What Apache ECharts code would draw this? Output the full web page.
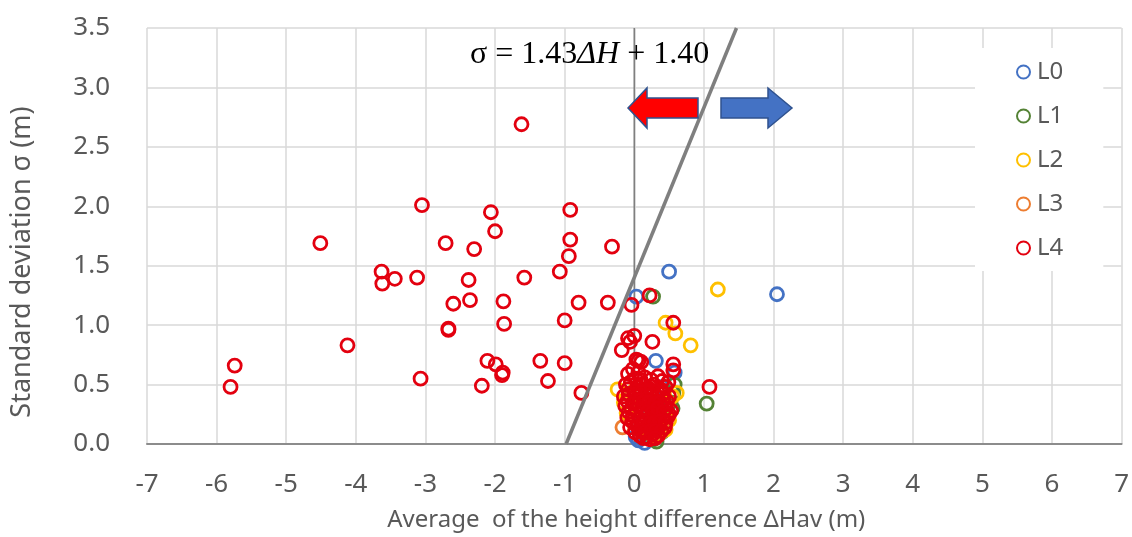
<!DOCTYPE html>
<html><head><meta charset="utf-8">
<script src="https://cdn.jsdelivr.net/npm/echarts@6/dist/echarts.min.js"></script>
<style>html,body{margin:0;padding:0;background:#fff}#c{width:1132px;height:537px}</style>
</head><body><div id="c"></div>
<script>
// ---- data ----
const seriesNames = ['L0','L1','L2','L3','L4'];
const L0 = [[0.50,1.45],[2.05,1.26],[0.03,1.24],[0.31,0.70],[0.58,0.60],[0.06,0.03],[0.15,0.01],[0.02,0.06],[0.22,0.30],[0.40,0.48],[0.10,0.20]];
const L1 = [[0.27,1.24],[1.04,0.34],[0.56,0.43],[0.32,0.02],[0.58,0.50],[0.45,0.25],[0.52,0.35],[0.28,0.04],[0.40,0.10],[0.55,0.30]];
const L2 = [[1.20,1.30],[0.45,1.02],[0.59,0.93],[0.81,0.83],[-0.24,0.46],[0.61,0.43],[0.55,0.40],[0.20,0.05],[-0.11,0.26],[0.50,0.20],[0.45,0.12],[0.35,0.08],[0.00,0.45],[-0.15,0.35]];
const L3 = [[-0.17,0.14],[0.38,0.10],[0.10,0.30],[0.45,0.20],[0.25,0.08],[-0.05,0.40]];
const L4 = [
  [-5.80,0.48],[-5.74,0.66],[-4.51,1.69],[-4.12,0.83],[-3.63,1.45],[-3.62,1.35],[-3.44,1.39],[-3.12,1.40],[-3.05,2.01],[-3.07,0.55],
  [-2.71,1.69],[-2.67,0.97],[-2.67,0.96],[-2.60,1.18],[-2.38,1.38],[-2.36,1.21],[-2.30,1.64],[-2.19,0.49],[-2.11,0.70],[-2.06,1.95],
  [-2.00,1.79],[-1.99,0.67],[-1.89,0.60],[-1.90,0.58],[-1.88,1.20],[-1.87,1.01],[-1.62,2.69],[-1.58,1.40],[-1.35,0.70],[-1.24,0.53],
  [-1.07,1.45],[-1.00,1.04],[-1.00,0.68],[-0.94,1.58],[-0.92,1.72],[-0.92,1.97],[-0.80,1.19],[-0.76,0.43],[-0.38,1.19],[-0.32,1.66],
  [-0.18,0.79],
  [-0.04,1.17],[0.22,1.25],[0.56,1.02],[0.26,0.86],[0.00,0.91],[-0.09,0.89],[-0.06,0.86],[0.03,0.71],[0.06,0.70],[0.10,0.69],
  [0.56,0.67],[1.08,0.48],[0.56,0.62],[0.34,0.57],[0.15,0.56],[-0.09,0.59],[0.49,0.52],
  [-0.12,0.50],[-0.05,0.52],[0.05,0.48],[0.12,0.50],[0.20,0.47],[0.28,0.50],[0.38,0.46],[0.45,0.48],
  [-0.15,0.40],[-0.08,0.42],[0.02,0.40],[0.10,0.43],[0.18,0.38],[0.25,0.41],[0.33,0.39],[0.42,0.37],[0.50,0.40],
  [-0.13,0.32],[-0.04,0.30],[0.06,0.33],[0.14,0.30],[0.22,0.32],[0.30,0.29],[0.38,0.31],[0.46,0.30],[0.53,0.28],
  [-0.10,0.22],[-0.02,0.24],[0.08,0.21],[0.16,0.23],[0.24,0.20],[0.32,0.22],[0.40,0.21],[0.48,0.23],
  [-0.06,0.14],[0.04,0.15],[0.12,0.12],[0.20,0.14],[0.28,0.13],[0.36,0.15],[0.44,0.14],
  [0.08,0.07],[0.18,0.06],[0.26,0.08],[0.34,0.07],
  [0.00,0.36],[0.27,0.36],[0.15,0.18],[0.35,0.26],[0.10,0.27],
  [-0.09,0.46],[0.00,0.44],[0.08,0.45],[0.16,0.44],[0.24,0.45],[0.33,0.44],[0.41,0.42],[0.47,0.36],
  [-0.10,0.36],[-0.01,0.34],[0.08,0.37],[0.13,0.35],[0.21,0.35],[0.30,0.34],[0.37,0.35],[0.44,0.33],
  [-0.08,0.27],[0.02,0.28],[0.11,0.25],[0.19,0.27],[0.26,0.26],[0.34,0.30],[0.42,0.27],[0.50,0.25],
  [-0.03,0.19],[0.06,0.18],[0.13,0.19],[0.22,0.17],[0.30,0.18],[0.37,0.19],[0.45,0.18],
  [0.01,0.10],[0.09,0.11],[0.16,0.10],[0.24,0.11],[0.31,0.11],[0.39,0.11],
  [0.13,0.05],[0.22,0.04],[0.30,0.05],
  [0.02,0.55],[0.09,0.54],[0.24,0.54],[0.40,0.53],[-0.02,0.63],[0.06,0.60]
];
const xTicks = [-7,-6,-5,-4,-3,-2,-1,0,1,2,3,4,5,6,7];
const yTicks = ['0.0','0.5','1.0','1.5','2.0','2.5','3.0','3.5'];
const fitSlope = 1.43, fitIntercept = 1.40;
const yMax = 3.5;

// ---- chart ----
const colors = ['#4472C4','#548235','#FFC000','#ED7D31','#E3000F'];
const fontTick = 'Noto Sans';
const grey = '#595959';
const chart = echarts.init(document.getElementById('c'));
const dataSets = [L0,L1,L2,L3,L4];
const scatter = dataSets.map((d,i)=>({
  name: seriesNames[i], type:'scatter', data:d, symbol:'circle', symbolSize:13,
  itemStyle:{color:'rgba(255,255,255,0)', borderColor:colors[i], borderWidth:2.8, opacity:1},
  z:3
}));
const fitLine = [[(0-fitIntercept)/fitSlope,0],[(yMax-fitIntercept)/fitSlope,yMax]];
chart.setOption({
  animation:false,
  grid:{left:147,right:7,top:28,bottom:87,containLabel:false},
  xAxis:{type:'value',min:-7,max:7,interval:1,
    axisLine:{show:true,lineStyle:{color:'#8C8C8C',width:2}},
    axisTick:{show:false},
    splitLine:{show:true,lineStyle:{color:'#D9D9D9',width:1.5}},
    axisLabel:{margin:28,fontSize:26,color:grey,fontFamily:fontTick,
      formatter:v=>{const k=xTicks.indexOf(Math.round(v));return k>=0?String(xTicks[k]):'';}},
    name:'Average  of the height difference \u0394Hav (m)',nameLocation:'middle',nameGap:64,
    nameTextStyle:{fontSize:24,color:grey,fontFamily:fontTick,padding:[0,16,0,0]}
  },
  yAxis:{type:'value',min:0,max:3.5,interval:0.5,
    axisLine:{show:false},axisTick:{show:false},
    splitLine:{show:true,lineStyle:{color:'#D9D9D9',width:1.5}},
    axisLabel:{margin:37,fontSize:26,color:grey,fontFamily:fontTick,
      formatter:v=>yTicks[Math.round(v*2)]},
    name:'Standard deviation \u03c3 (m)',nameLocation:'middle',nameGap:111,
    nameTextStyle:{fontSize:27,color:grey,fontFamily:fontTick,padding:[0,52,0,0]}
  },
  legend:{orient:'vertical',left:975,top:48,width:127,
    data:seriesNames,backgroundColor:'#fff',padding:[12,40,11,41],
    itemWidth:13,itemHeight:13,itemGap:20,
    textStyle:{fontSize:24,color:grey,fontFamily:fontTick,lineHeight:24,padding:[0,0,0,2]},
    z:10
  },
  series:[
    {type:'line',data:[[0,0],[0,yMax]],symbol:'none',lineStyle:{color:'#7F7F7F',width:1.6},silent:true,z:2,legendHoverLink:false},
    {type:'line',data:fitLine,symbol:'none',lineStyle:{color:'#7F7F7F',width:3.5},silent:true,z:4},
    ...scatter
  ]
});

// ---- annotations ----
function arrowLeft(tipX, y, headBack, bodyEnd, hh, bh){
  return [[tipX,y],[headBack,y-hh],[headBack,y-bh],[bodyEnd,y-bh],[bodyEnd,y+bh],[headBack,y+bh],[headBack,y+hh]];
}
function arrowRight(bodyStart, y, headBack, tipX, hh, bh){
  return [[bodyStart,y-bh],[headBack,y-bh],[headBack,y-hh],[tipX,y],[headBack,y+hh],[headBack,y+bh],[bodyStart,y+bh]];
}
chart.setOption({
  graphic:[
    {type:'polygon',shape:{points:arrowLeft(628,108,647,698,20,10)},style:{fill:'#FF0000',stroke:'#2F528F',lineWidth:1.5},z:20},
    {type:'polygon',shape:{points:arrowRight(721,108,768,792,20,10)},style:{fill:'#4472C4',stroke:'#2F528F',lineWidth:1.5},z:20},
    {type:'text',left:470,top:39,z:20,style:{
      text:'{n|\u03c3 = 1.43}{i|\u0394H}{n| + 1.40}',
      rich:{n:{fontFamily:'Liberation Serif',fontSize:32,fill:'#000'},i:{fontFamily:'Liberation Serif',fontSize:32,fontStyle:'italic',fill:'#000'}}
    }}
  ]
});
</script>
</body></html>
